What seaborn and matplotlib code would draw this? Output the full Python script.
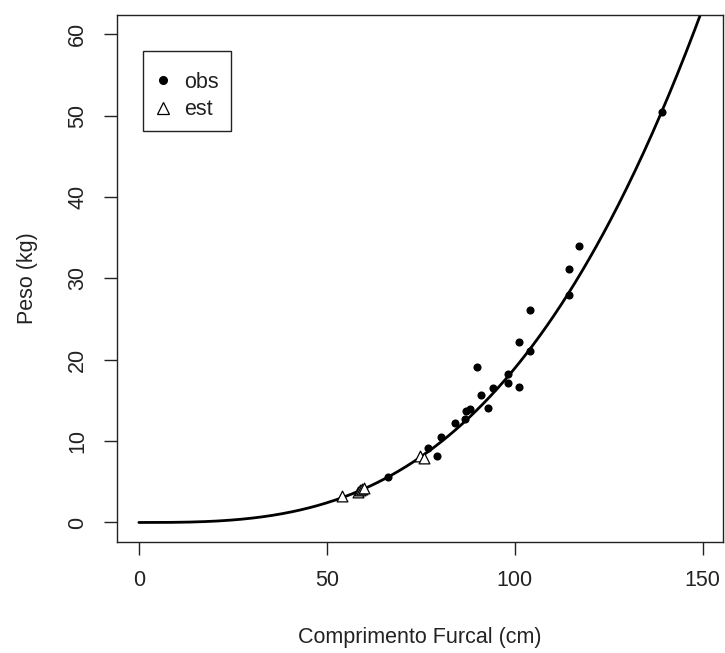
import numpy as np
import pandas as pd
import matplotlib
matplotlib.use('Agg')
import matplotlib.pyplot as plt
import seaborn as sns
from matplotlib.lines import Line2D
from matplotlib.patches import Rectangle

# observed fork length (cm) and weight (kg)
obs_len = [66.3, 77.0, 79.2, 80.4, 84.1, 86.7, 86.9, 88.1, 92.9, 91.1, 94.2,
           89.9, 98.1, 98.1, 101.1, 104.0, 101.2, 104.1, 114.4, 114.4, 117.2, 139.1]
obs_wt = [5.6, 9.1, 8.2, 10.5, 12.2, 12.7, 13.7, 13.9, 14.1, 15.7, 16.5,
          19.1, 18.2, 17.1, 16.7, 21.1, 22.2, 26.1, 27.9, 31.1, 34.0, 50.5]

# estimated points
est_len = [53.9, 58.3, 58.9, 59.4, 60.0, 74.8, 75.8]
est_wt = [3.3, 3.8, 4.0, 4.1, 4.2, 8.2, 7.9]

# length-weight model W = a * L^b (coefficients)
coef_a = 2.176e-5
coef_b = 2.97
curve_from, curve_to = 0.0, 149.3

obs = pd.DataFrame({'len': obs_len, 'wt': obs_wt})
est = pd.DataFrame({'len': est_len, 'wt': est_wt})
lgrid = np.linspace(curve_from, curve_to, 400)
curve = pd.DataFrame({'len': lgrid, 'wt': coef_a * lgrid ** coef_b})

sns.set_style('white')
plt.rcParams['font.family'] = ['Liberation Sans', 'DejaVu Sans']

fig = plt.figure(figsize=(7.25, 6.53), dpi=100)
W, H = 725, 653
left, right, top, bottom = 116.7, 722.7, 14.7, 542
ax = fig.add_axes([left / W, 1 - bottom / H, (right - left) / W, (bottom - top) / H])

def fx(px):
    return (px - left) / (right - left)

def fy(py):
    return (bottom - py) / (bottom - top)

sns.lineplot(data=curve, x='len', y='wt', color='black', linewidth=2.0, ax=ax)
sns.scatterplot(data=obs, x='len', y='wt', color='black', marker='o', s=34,
                edgecolor='black', linewidth=0, ax=ax, zorder=3)
sns.scatterplot(data=est, x='len', y='wt', marker='^', s=60, facecolor='white',
                edgecolor='black', linewidth=0.9, ax=ax, zorder=3)

ax.set_xlim(-5.9, 155.3)
ax.set_ylim(-2.4, 62.4)
ax.set_xticks([0, 50, 100, 150])
ax.set_yticks([0, 10, 20, 30, 40, 50, 60])

txt = '#222222'
for s in ax.spines.values():
    s.set_color('#222222')
    s.set_linewidth(1.0)
ax.tick_params(axis='both', direction='out', length=9.5, width=1.0, color='#222222',
               labelsize=15.5, labelcolor=txt, pad=11, bottom=True, left=True)
for lab in ax.get_yticklabels():
    lab.set_rotation(90)
    lab.set_va('center')

ax.set_xlabel('Comprimento Furcal (cm)', fontsize=15.5, color=txt)
ax.set_ylabel('Peso (kg)', fontsize=15.5, color=txt)
ax.xaxis.set_label_coords(fx(420), fy(638))
ax.yaxis.set_label_coords(fx(27), fy(278))
ax.xaxis.label.set_va('center')
ax.yaxis.label.set_va('center')

# legend box
ax.add_patch(Rectangle((fx(143.3), fy(131.3)), fx(230.7) - fx(143.3), fy(50.7) - fy(131.3),
                       transform=ax.transAxes, facecolor='white', edgecolor='#222222',
                       linewidth=1.0, zorder=4))
handles = [Line2D([], [], linestyle='none', marker='o', color='black', markersize=5.5),
           Line2D([], [], linestyle='none', marker='^', markerfacecolor='white',
                  markeredgecolor='black', markersize=8.5, markeredgewidth=0.9)]
leg = ax.legend(handles, ['obs', 'est'], loc='upper left',
                bbox_to_anchor=(fx(150), fy(72)), borderaxespad=0, frameon=False,
                fontsize=15.5, handlelength=1.2, handletextpad=0.4,
                labelspacing=0.29, borderpad=0)
leg.set_zorder(5)
for t in leg.get_texts():
    t.set_color(txt)

fig.savefig('out.png', dpi=100)
